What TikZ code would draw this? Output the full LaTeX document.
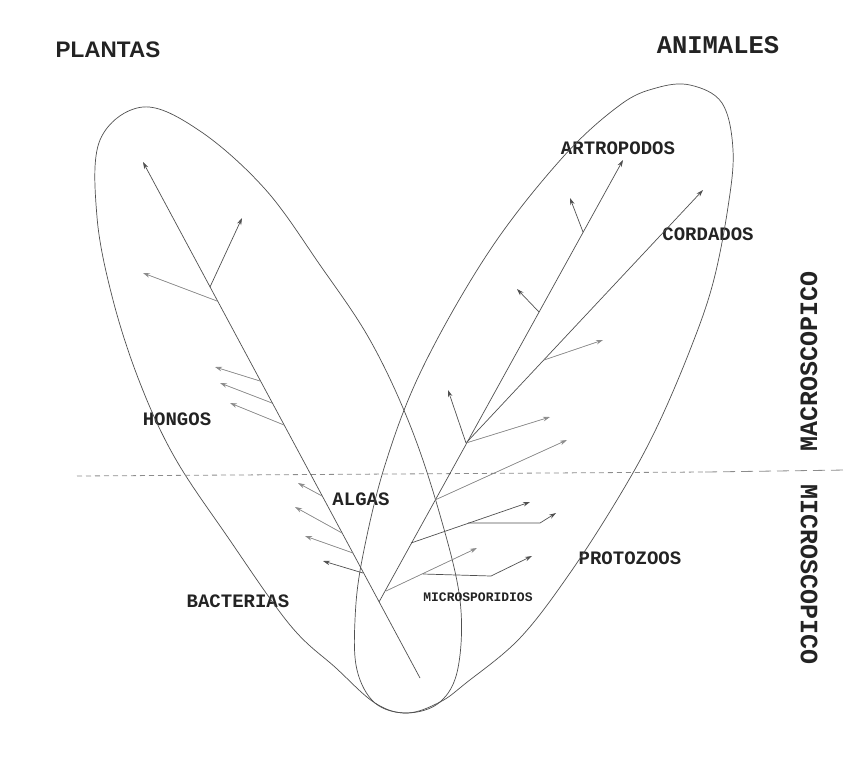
\documentclass[tikz,border=0pt]{standalone}
\usepackage{fontspec}
\usepackage{tikz}
\usetikzlibrary{arrows.meta,positioning}
\newfontfamily\labelmono{Liberation Mono}
\newfontfamily\labelsans{Liberation Sans}
\definecolor{ink}{RGB}{35,35,35}
\definecolor{linegray}{RGB}{80,80,80}
\definecolor{faintgray}{RGB}{140,140,140}

\begin{document}
\begin{tikzpicture}[x=1pt, y=-1pt]
\tikzstyle{reino} = [text=ink, inner sep=0pt]
\tikzstyle{grupo} = [text=ink, inner sep=0pt, font=\labelmono\bfseries\fontsize{19}{19}\selectfont]
\tikzstyle{nivel} = [text=ink, inner sep=0pt, font=\labelmono\bfseries\fontsize{25}{25}\selectfont]
\tikzstyle{contour} = [draw=linegray, line width=0.7pt]
\tikzstyle{arrow} = [draw=linegray, line width=0.7pt, -{Stealth[length=7pt,width=4.5pt]}]
\tikzstyle{faintarrow} = [arrow, draw=faintgray, fill=linegray]
\tikzstyle{divider} = [draw=faintgray, line width=0.8pt, dash pattern=on 5pt off 4pt]

\useasboundingbox (0,0) rectangle (846,772);

% kingdoms and levels
\node (plantas) [reino, font=\labelsans\bfseries\fontsize{22.5}{22.5}\selectfont] at (108,50) {PLANTAS};
\node (animales) [reino, font=\labelmono\bfseries\fontsize{25.5}{25.5}\selectfont] at (718,45) {ANIMALES};
\node (macro) [nivel, rotate=90] at (809,361) {MACROSCOPICO};
\node (micro) [nivel, rotate=-90] at (809,575) {MICROSCOPICO};

% groups
\node (artropodos) [grupo] at (618,148) {ARTROPODOS};
\node (cordados) [grupo] at (708,234) {CORDADOS};
\node (hongos) [grupo] at (177,419) {HONGOS};
\node (algas) [grupo] at (361,499) {ALGAS};
\node (bacterias) [grupo] at (238,601) {BACTERIAS};
\node (protozoos) [grupo] at (630,558) {PROTOZOOS};
\node (microsporidios) [grupo, font=\labelmono\bfseries\fontsize{13}{13}\selectfont] at (478,597) {MICROSPORIDIOS};

% plant and animal contours
\draw[contour] plot[smooth cycle, tension=0.6] coordinates {
  (143,107) (200,131) (265,189) (320,265) (370,340) (410,425) (440,515)
  (460,600) (458,668) (440,702) (407,713) (375,703) (336,668) (290,625)
  (227,536) (175,458) (140,383) (113,300) (97,217) (100,140)};
\draw[contour] plot[smooth cycle, tension=0.6] coordinates {
  (690,85) (722,103) (733,150) (728,207) (713,283) (690,350) (656,429)
  (620,495) (570,573) (520,638) (466,683) (440,702) (407,713) (375,703)
  (357,670) (355,620) (362,560) (385,465) (423,367) (490,250) (563,157)
  (620,105) (656,88)};

% macro / micro divider
\coordinate (divl) at (77,476);
\coordinate (divm) at (705,472);
\coordinate (divr) at (846,470);
\draw[divider] (divl) -- (divm);
\draw[divider, dash pattern=on 12pt off 6pt] (divm) -- (divr);

% trunks
\coordinate (raiz) at (420,678);
\coordinate (tplantas) at (143,162);
\coordinate (janim) at (379,602);
\coordinate (tartro) at (623,160);
\coordinate (n3) at (466,443);
\coordinate (tcord) at (703,190);
\draw[arrow] (raiz) -- (tplantas);
\draw[arrow] (janim) -- (tartro);
\draw[arrow] (n3) -- (tcord);

% plant branches
\coordinate (p1) at (210,287); \coordinate (tp1) at (242,218);
\coordinate (p2) at (217,301); \coordinate (tp2) at (143,273);
\coordinate (h1) at (260,381); \coordinate (th1) at (215,367);
\coordinate (h2) at (272,403); \coordinate (th2) at (220,383);
\coordinate (h3) at (284,425); \coordinate (th3) at (230,403);
\coordinate (a1) at (322,496); \coordinate (ta1) at (298,483);
\coordinate (a2) at (342,533); \coordinate (ta2) at (295,507);
\coordinate (a3) at (353,553); \coordinate (ta3) at (305,536);
\coordinate (a4) at (363,573); \coordinate (ta4) at (323,561);
\draw[arrow] (p1) -- (tp1);
\draw[faintarrow] (p2) -- (tp2);
\draw[faintarrow] (h1) -- (th1);
\draw[faintarrow] (h2) -- (th2);
\draw[faintarrow] (h3) -- (th3);
\draw[faintarrow] (a1) -- (ta1);
\draw[faintarrow] (a2) -- (ta2);
\draw[faintarrow] (a3) -- (ta3);
\draw[arrow] (a4) -- (ta4);

% animal branches
\coordinate (n1) at (583,232); \coordinate (tn1) at (570,198);
\coordinate (n2) at (539,312); \coordinate (tn2) at (517,289);
\coordinate (tn3) at (448,390); \coordinate (tn3b) at (550,417);
\coordinate (c1) at (544,360); \coordinate (tc1) at (603,340);
\coordinate (n4) at (435,500); \coordinate (tn4) at (567,440);
\coordinate (n5) at (411,543); \coordinate (tn5) at (530,502);
\coordinate (n5b) at (468,523); \coordinate (k5) at (540,523); \coordinate (tn5b) at (556,513);
\coordinate (n6) at (386,591); \coordinate (tn6) at (477,548);
\coordinate (n6b) at (423,574); \coordinate (k6) at (491,576); \coordinate (tn6b) at (532,556);
\draw[arrow] (n1) -- (tn1);
\draw[arrow] (n2) -- (tn2);
\draw[arrow] (n3) -- (tn3);
\draw[faintarrow] (n3) -- (tn3b);
\draw[faintarrow] (c1) -- (tc1);
\draw[faintarrow] (n4) -- (tn4);
\draw[arrow] (n5) -- (tn5);
\draw[arrow] (n5b) -- (k5) -- (tn5b);
\draw[faintarrow] (n6) -- (tn6);
\draw[arrow] (n6b) -- (k6) -- (tn6b);
\end{tikzpicture}
\end{document}
